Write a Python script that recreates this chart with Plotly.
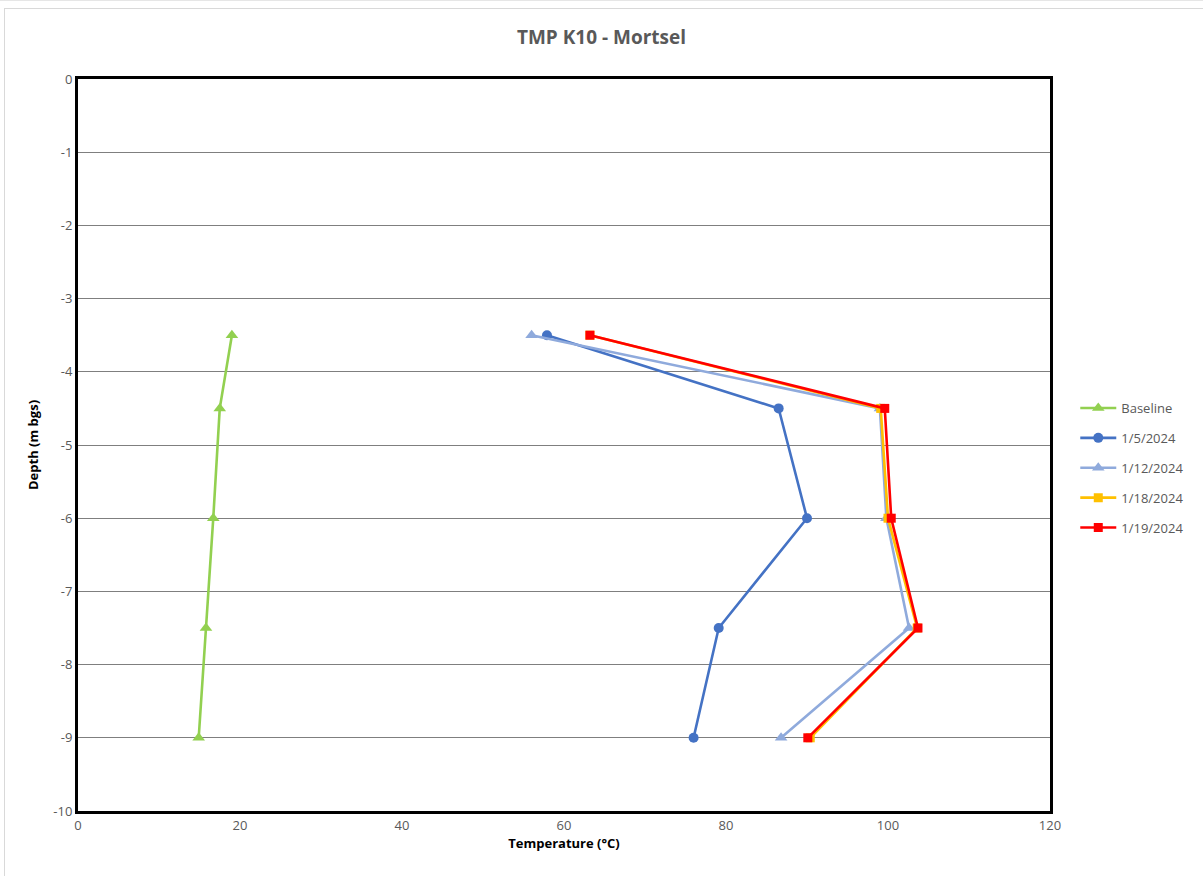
import plotly.graph_objects as go

depth = [-3.5, -4.5, -6, -7.5, -9]

baseline = [19.0, 17.5, 16.7, 15.8, 14.9]
d_0105 = [57.9, 86.5, 90.0, 79.1, 76.0]
d_0112 = [56.0, 99.0, 99.8, 102.6, 86.8]
d_0118 = [63.2, 99.1, 100.0, 103.6, 90.4]
d_0119 = [63.2, 99.6, 100.4, 103.7, 90.1]

y_ticks = [0, -1, -2, -3, -4, -5, -6, -7, -8, -9, -10]
y_labels = ["0", "-1", "-2", "-3", "-4", "-5", "-6", "-7", "-8", "-9", "-10"]

series = [
    ("Baseline", baseline, "#92D050", "triangle-up", 11),
    ("1/5/2024", d_0105, "#4472C4", "circle", 10),
    ("1/12/2024", d_0112, "#8FAADC", "triangle-up", 11),
    ("1/18/2024", d_0118, "#FFC000", "square", 9),
    ("1/19/2024", d_0119, "#FF0000", "square", 9),
]

FONT = "Open Sans, Liberation Sans, sans-serif"

fig = go.Figure()
for name, vals, color, sym, size in series:
    fig.add_trace(go.Scatter(
        x=vals, y=depth, name=name, mode="lines+markers", legendgroup=name,
        line=dict(color=color, width=2.6),
        marker=dict(symbol=sym, size=size, color=color),
    ))

W, H = 1203, 876
L, R, T, B = 78, 153, 79, 65
pw, ph = W - L - R, H - T - B


def px_x(p):
    return (p - L) / pw


def px_y(p):
    return (H - B - p) / ph


fig.update_layout(
    width=W, height=H,
    margin=dict(l=L, r=R, t=T, b=B),
    paper_bgcolor="white", plot_bgcolor="white",
    title=dict(text="<b>TMP K10 - Mortsel</b>", x=0.5, xanchor="center",
               y=0.957, yanchor="middle",
               font=dict(family=FONT, size=19, color="#595959")),
    font=dict(family=FONT, color="#595959", size=13),
    showlegend=True,
    legend=dict(x=1.026, xanchor="left", y=px_y(468), yanchor="middle",
                font=dict(family=FONT, size=13, color="#595959"),
                tracegroupgap=10, itemwidth=36, bgcolor="rgba(0,0,0,0)"),
    xaxis=dict(range=[0, 120], dtick=20, showgrid=False, zeroline=False,
               showline=True, linecolor="black", linewidth=3, mirror=True,
               ticks="", tickfont=dict(size=13, color="#595959"),
               title=dict(text="<b>Temperature (°C)</b>", standoff=4,
                          font=dict(size=13, color="black"))),
    yaxis=dict(range=[-10, 0], tickvals=y_ticks, ticktext=y_labels,
               showgrid=True, gridcolor="#7f7f7f", gridwidth=1, zeroline=False,
               showline=True, linecolor="black", linewidth=3, mirror=True,
               ticks="", tickfont=dict(size=13, color="#595959"),
               title=dict(text="<b>Depth (m bgs)</b>", standoff=12,
                          font=dict(size=13, color="black"))),
    shapes=[
        dict(type="line", xref="paper", yref="paper",
             x0=px_x(4), x1=px_x(W), y0=px_y(8.5), y1=px_y(8.5),
             line=dict(color="#d9d9d9", width=1)),
        dict(type="line", xref="paper", yref="paper",
             x0=px_x(4.5), x1=px_x(4.5), y0=px_y(8.5), y1=px_y(H),
             line=dict(color="#d9d9d9", width=1)),
        dict(type="line", xref="paper", yref="paper",
             x0=px_x(0), x1=px_x(W), y0=px_y(0.5), y1=px_y(0.5),
             line=dict(color="#e6e6e6", width=1)),
    ],
)

fig.write_html("out.html")
